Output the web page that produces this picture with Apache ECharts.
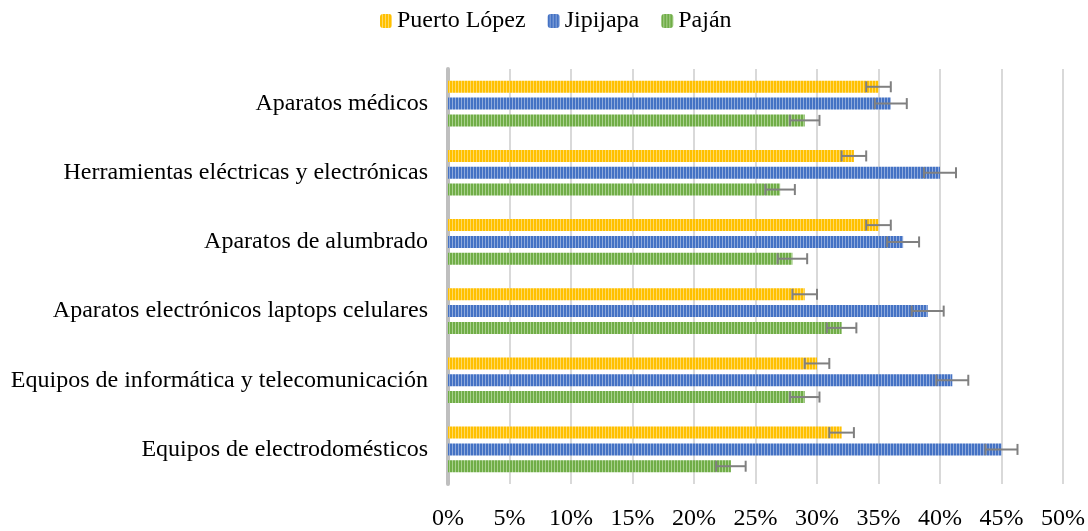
<!doctype html>
<html>
<head>
<meta charset="utf-8">
<script src="https://cdn.jsdelivr.net/npm/echarts@6/dist/echarts.min.js"></script>
<style>
  html, body { margin: 0; padding: 0; background: #fff; }
  #main { width: 1088px; height: 531px; }
</style>
</head>
<body>
<div id="main"></div>
<script>
// categories, bottom to top
var categories = [
    'Equipos de electrodomésticos',
    'Equipos de informática y telecomunicación',
    'Aparatos electrónicos laptops celulares',
    'Aparatos de alumbrado',
    'Herramientas eléctricas y electrónicas',
    'Aparatos médicos'
];
var puertoLopez = [32, 30, 29, 35, 33, 35];
var jipijapa = [45, 41, 39, 37, 40, 36];
var pajan = [23, 29, 32, 28, 27, 29];
// error bar half-width per series (percentage points)
var errPuertoLopez = 1.0;
var errJipijapa = 1.3;
var errPajan = 1.2;
var xTicks = [0, 5, 10, 15, 20, 25, 30, 35, 40, 45, 50];

function stripes(dark, light) {
    var c = document.createElement('canvas');
    c.width = 3; c.height = 4;
    var ctx = c.getContext('2d');
    ctx.fillStyle = dark;
    ctx.fillRect(0, 0, 3, 4);
    ctx.fillStyle = light;
    ctx.fillRect(2, 0, 1, 4);
    return { image: c, repeat: 'repeat' };
}

var colors = {
    'Puerto López': stripes('#FFC000', '#FFD966'),
    'Jipijapa': stripes('#4472C4', '#8FAADC'),
    'Paján': stripes('#70AD47', '#A9D18E')
};

var barW = 12, gap = 4.8;
// first series sits at the top of each category
var order = [
    { name: 'Puerto López', data: puertoLopez, err: errPuertoLopez },
    { name: 'Jipijapa', data: jipijapa, err: errJipijapa },
    { name: 'Paján', data: pajan, err: errPajan }
];

var series = [];
order.forEach(function (s) {
    series.push({
        name: s.name,
        type: 'bar',
        data: s.data,
        barWidth: barW,
        barGap: '40%',
        itemStyle: { color: colors[s.name] },
        z: 2
    });
});
order.forEach(function (s, i) {
    var shift = (i - 1) * (barW + gap);
    series.push({
        type: 'custom',
        data: s.data.map(function (v, k) { return [v, k]; }),
        z: 5,
        silent: true,
        renderItem: function (params, api) {
            var v = api.value(0), k = api.value(1);
            var lo = api.coord([v - s.err, k]);
            var hi = api.coord([v + s.err, k]);
            var y = lo[1] + shift;
            var style = { stroke: '#808080', lineWidth: 2 };
            return {
                type: 'group',
                children: [
                    { type: 'line', shape: { x1: lo[0], y1: y, x2: hi[0], y2: y }, style: style },
                    { type: 'line', shape: { x1: lo[0], y1: y - 5.5, x2: lo[0], y2: y + 5.5 }, style: style },
                    { type: 'line', shape: { x1: hi[0], y1: y - 5.5, x2: hi[0], y2: y + 5.5 }, style: style }
                ]
            };
        }
    });
});

var chart = echarts.init(document.getElementById('main'));
chart.setOption({
    animation: false,
    backgroundColor: '#fff',
    textStyle: { fontFamily: 'Liberation Serif' },
    legend: {
        data: ['Puerto López', 'Jipijapa', 'Paján'],
        top: 4,
        left: 375,
        itemWidth: 12,
        itemHeight: 14,
        itemGap: 22,
        textStyle: { fontFamily: 'Liberation Serif', fontSize: 24, color: '#000' }
    },
    grid: { left: 448, right: 22, top: 69, bottom: 40 },
    xAxis: {
        type: 'value',
        min: xTicks[0],
        max: xTicks[xTicks.length - 1],
        interval: 5,
        axisLine: { show: false },
        axisTick: { show: false },
        axisLabel: {
            formatter: '{value}%',
            fontFamily: 'Liberation Serif',
            fontSize: 24,
            color: '#000',
            margin: 23
        },
        splitLine: { lineStyle: { color: '#d9d9d9', width: 2 } }
    },
    yAxis: {
        type: 'category',
        data: categories,
        axisLine: { lineStyle: { color: '#bfbfbf', width: 4 } },
        axisTick: { show: false },
        axisLabel: {
            fontFamily: 'Liberation Serif',
            fontSize: 24,
            color: '#000',
            margin: 20
        }
    },
    series: series
});
</script>
</body>
</html>
